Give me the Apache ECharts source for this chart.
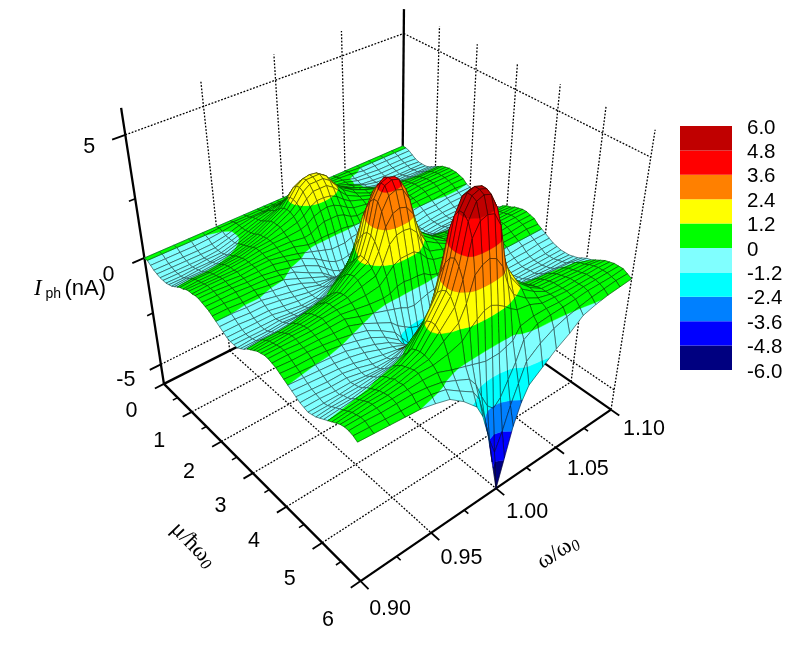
<!DOCTYPE html>
<html><head><meta charset="utf-8">
<style>html,body{margin:0;padding:0;background:#fff}#c{width:789px;height:645px}</style>
<script src="https://cdn.jsdelivr.net/npm/echarts@6/dist/echarts.min.js"></script>
</head><body><div id="c"></div>
<script>
const omegaGrid=[.90,.91,.92,.93,.94,.95,.96,.97,.98,.985,.99,.995,1,1.005,1.01,1.015,1.02,1.03,1.04,1.05,1.06,1.07,1.08,1.09,1.10];
// photocurrent in nA, one row per mu/hw0 step of 0.1 (0 to 6)
const photocurrent=[
[0,0,0,0,0,0,0,0,0,0,0,0,0,0,0,0,0,0,0,0,0,0,0,0,0],
[0,0,0,0,0,.05,.05,.05,.05,.05,.05,.05,.05,.05,.05,.05,.05,.05,.05,.05,0,0,0,0,0],
[-.1,-.1,-.1,-.1,-.06,0,.1,.1,.1,.1,.1,.1,.1,.1,.1,.1,.1,.1,.1,.05,-.05,-.05,-.05,-.05,-.05],
[-.2,-.2,-.2,-.2,-.18,-.08,.1,.2,.2,.3,.3,.3,.3,.3,.3,.3,.2,.2,.1,-.07,-.1,-.15,-.15,-.15,-.15],
[-.25,-.25,-.25,-.25,-.24,-.08,.1,.25,.35,.4,.45,.5,.5,.5,.45,.4,.35,.2,.1,-.07,-.15,-.2,-.2,-.2,-.25],
[-.3,-.3,-.3,-.3,-.24,-.08,.1,.3,.45,.55,.65,.7,.7,.7,.65,.55,.45,.3,.1,-.14,-.2,-.25,-.25,-.25,-.3],
[-.3,-.3,-.3,-.25,-.24,-.08,.15,.35,.55,.7,.9,1,1,1,.9,.7,.55,.3,.15,-.07,-.2,-.25,-.3,-.3,-.3],
[-.3,-.3,-.25,-.25,-.18,0,.2,.45,.7,.95,1.2,1.35,1.4,1.35,1.2,.95,.7,.4,.15,-.07,-.2,-.25,-.25,-.25,-.3],
[-.25,-.25,-.2,-.15,-.12,.08,.25,.55,.85,1.15,1.5,1.65,1.7,1.65,1.5,1.15,.85,.5,.25,0,-.15,-.2,-.2,-.25,-.25],
[-.2,-.15,-.15,-.1,0,.15,.35,.65,.95,1.3,1.65,1.85,1.9,1.85,1.65,1.3,.95,.55,.25,.07,-.05,-.1,-.15,-.15,-.15],
[-.1,-.05,-.05,0,.06,.22,.42,.7,1,1.3,1.7,1.9,1.9,1.9,1.7,1.3,.95,.6,.35,.15,.05,0,-.05,-.05,-.05],
[0,.05,.05,.1,.18,.3,.45,.7,1,1.25,1.6,1.8,1.8,1.8,1.6,1.25,.95,.55,.3,.2,.1,.1,.05,.05,.05],
[.1,.15,.15,.2,.24,.38,.5,.7,.9,1.1,1.4,1.6,1.6,1.6,1.4,1.1,.8,.5,.3,.22,.15,.15,.15,.15,.15],
[.15,.2,.2,.25,.3,.45,.5,.6,.75,.9,1.15,1.3,1.3,1.25,1.1,.85,.65,.45,.25,.2,.2,.2,.2,.2,.2],
[.25,.25,.25,.3,.36,.45,.5,.5,.55,.65,.85,.95,1,.95,.8,.6,.45,.35,.25,.2,.2,.25,.25,.25,.25],
[.3,.3,.3,.3,.36,.45,.42,.4,.3,.35,.5,.6,.6,.6,.5,.3,.2,.25,.2,.2,.2,.25,.25,.25,.25],
[.3,.35,.35,.35,.36,.38,.34,.28,.1,.08,.12,.12,.1,.12,.08,0,0,.1,.15,.18,.18,.25,.25,.25,.25],
[.35,.35,.35,.3,.36,.38,.25,.1,-.1,-.2,-.3,-.4,-.4,-.4,-.3,-.25,-.15,0,.1,.15,.15,.2,.2,.2,.2],
[.35,.35,.3,.3,.3,.3,.17,0,-.3,-.5,-.7,-.85,-.9,-.85,-.7,-.5,-.3,-.1,0,.07,.1,.1,.1,.15,.15],
[.3,.3,.3,.25,.24,.15,0,-.2,-.5,-.75,-1,-1.15,-1.2,-1.15,-1,-.75,-.5,-.3,-.15,-.07,0,0,.05,.05,0],
[.25,.25,.25,.2,.18,.08,-.08,-.4,-.7,-.95,-1.2,-1.3,-1.3,-1.3,-1.15,-.9,-.65,-.45,-.3,-.2,-.1,-.1,-.05,-.05,-.05],
[.2,.2,.15,.15,.06,0,-.25,-.5,-.75,-.95,-1.2,-1.3,-1.3,-1.3,-1.15,-.9,-.65,-.55,-.38,-.3,-.2,-.2,-.15,-.15,-.15],
[.1,.1,.05,.05,-.06,-.15,-.34,-.6,-.75,-.85,-1,-1.1,-1.15,-1.1,-1,-.8,-.65,-.55,-.42,-.35,-.3,-.25,-.25,-.25,-.25],
[0,0,-.05,-.05,-.18,-.3,-.42,-.6,-.6,-.6,-.6,-.6,-.6,-.6,-.55,-.5,-.5,-.55,-.42,-.35,-.3,-.3,-.3,-.3,-.3],
[-.1,-.1,-.15,-.15,-.24,-.38,-.5,-.55,-.45,-.3,-.1,-.05,0,-.05,-.1,-.2,-.3,-.45,-.4,-.35,-.3,-.3,-.3,-.35,-.35],
[-.2,-.2,-.25,-.25,-.36,-.45,-.5,-.45,-.2,.05,.4,.65,.7,.65,.4,.1,-.05,-.35,-.35,-.32,-.3,-.3,-.3,-.3,-.35],
[-.3,-.3,-.3,-.3,-.42,-.52,-.5,-.3,.05,.45,1.05,1.45,1.5,1.45,1.05,.5,.15,-.15,-.22,-.25,-.2,-.25,-.25,-.25,-.3],
[-.35,-.35,-.35,-.35,-.42,-.45,-.42,-.1,.35,.9,1.7,2.1,2.2,2.1,1.7,.9,.45,.1,-.08,-.14,-.15,-.15,-.15,-.2,-.25],
[-.35,-.35,-.35,-.3,-.36,-.38,-.25,.15,.65,1.3,2.3,2.8,2.9,2.8,2.3,1.3,.7,.35,.1,0,-.05,-.05,-.1,-.1,-.15],
[-.35,-.3,-.3,-.25,-.3,-.22,-.05,.4,.85,1.65,2.75,3.3,3.4,3.3,2.75,1.65,.9,.55,.2,.14,.05,.05,0,0,0],
[-.25,-.25,-.2,-.15,-.12,0,.1,.6,1.1,1.95,3.1,3.6,3.8,3.6,3.1,1.95,1.2,.7,.3,.2,.15,.15,.1,.1,.1],
[-.15,-.1,-.1,-.05,.06,.15,.3,.8,1.3,2.1,3.3,3.8,3.9,3.8,3.3,2.1,1.3,.8,.4,.25,.25,.25,.2,.2,.15],
[0,.05,.05,.1,.18,.3,.45,.9,1.3,2.1,3.3,3.8,3.9,3.8,3.3,2.1,1.3,.85,.45,.3,.3,.3,.25,.25,.25],
[.1,.15,.15,.2,.3,.45,.55,.95,1.25,1.95,3,3.5,3.6,3.5,3,1.95,1.25,.8,.45,.35,.35,.3,.3,.3,.3],
[.2,.25,.25,.3,.36,.52,.6,.9,1.1,1.65,2.5,2.9,3,2.9,2.5,1.6,1.1,.75,.45,.35,.35,.35,.35,.35,.35],
[.3,.3,.35,.35,.42,.52,.6,.75,.9,1.25,1.9,2.15,2.2,2.15,1.85,1.15,.8,.6,.4,.3,.3,.3,.35,.35,.35],
[.35,.35,.4,.4,.48,.52,.5,.5,.6,.85,1.15,1.3,1.3,1.3,1.1,.75,.55,.4,.3,.25,.25,.25,.3,.3,.3],
[.4,.4,.4,.4,.42,.45,.35,.25,.2,.25,.4,.45,.4,.4,.35,.15,.05,.1,.16,.2,.2,.2,.2,.25,.25],
[.4,.4,.35,.35,.36,.38,.17,0,-.2,-.3,-.4,-.55,-.6,-.5,-.4,-.35,-.25,-.15,-.08,.07,.1,.1,.1,.15,.1],
[.35,.35,.3,.3,.24,.22,0,-.3,-.6,-.9,-1.1,-1.3,-1.4,-1.3,-1.1,-.85,-.6,-.35,-.24,-.14,-.05,0,0,0,0],
[.3,.25,.25,.2,.12,0,-.17,-.5,-.9,-1.3,-1.7,-1.9,-2,-1.9,-1.7,-1.3,-.9,-.55,-.35,-.25,-.15,-.15,-.1,-.1,-.1],
[.2,.15,.15,.1,0,-.15,-.34,-.65,-1.1,-1.6,-2,-2.2,-2.3,-2.2,-2,-1.5,-1.05,-.65,-.42,-.35,-.3,-.25,-.25,-.2,-.2],
[.1,.05,0,-.05,-.12,-.3,-.5,-.75,-1.15,-1.6,-2,-2.2,-2.3,-2.2,-2,-1.5,-1.05,-.7,-.45,-.4,-.35,-.35,-.35,-.3,-.3],
[0,-.05,-.1,-.15,-.24,-.38,-.6,-.8,-1.05,-1.4,-1.8,-2,-2.1,-2,-1.75,-1.3,-.95,-.7,-.45,-.4,-.4,-.4,-.4,-.4,-.35],
[-.1,-.15,-.2,-.25,-.36,-.52,-.68,-.8,-.9,-1.05,-1.3,-1.45,-1.5,-1.45,-1.25,-.95,-.7,-.6,-.45,-.4,-.4,-.4,-.4,-.4,-.4],
[-.2,-.25,-.3,-.3,-.42,-.6,-.68,-.65,-.55,-.5,-.4,-.4,-.4,-.4,-.35,-.3,-.35,-.45,-.4,-.38,-.35,-.35,-.4,-.4,-.4],
[-.3,-.3,-.35,-.35,-.48,-.6,-.6,-.45,-.1,.25,.6,.9,1,.9,.6,.3,0,-.25,-.3,-.32,-.3,-.35,-.35,-.35,-.4],
[-.35,-.35,-.4,-.4,-.48,-.52,-.42,-.1,.35,.9,1.7,2.1,2.2,2.1,1.7,.9,.4,.05,-.16,-.21,-.2,-.25,-.3,-.3,-.35],
[-.4,-.4,-.4,-.35,-.36,-.38,-.25,.3,.85,1.75,2.95,3.4,3.5,3.4,2.9,1.7,.85,.35,.08,0,-.1,-.15,-.2,-.25,-.3],
[-.35,-.35,-.3,-.3,-.24,-.22,0,.6,1.45,2.5,4,4.5,4.6,4.5,3.95,2.45,1.45,.7,.3,.1,.05,0,-.05,-.1,-.2],
[-.3,-.25,-.25,-.2,-.12,0,.2,1,2,3,4.6,5.2,5.3,5.2,4.55,2.95,2,1,.5,.2,.15,.1,.05,0,-.1],
[-.2,-.15,-.15,-.05,.06,.15,.5,1.3,2.2,3.3,4.9,5.4,5.5,5.4,4.9,3.3,2.3,1.25,.7,.3,.25,.2,.15,.1,-.05],
[-.1,-.05,0,.05,.18,.3,.6,1.4,2.3,3.4,4.9,5.4,5.5,5.4,4.9,3.35,2.35,1.3,.75,.35,.3,.25,.2,.15,.05],
[0,.05,.1,.15,.24,.38,.65,1.4,2.2,3.2,4.7,5.3,5.4,5.3,4.7,3.15,2.2,1.25,.75,.4,.35,.3,.25,.25,.15],
[.1,.15,.2,.25,.36,.45,.65,1.25,1.9,2.8,4.2,4.7,4.8,4.7,4.15,2.7,1.9,1.1,.7,.4,.35,.35,.3,.3,.25],
[.2,.25,.3,.3,.36,.52,.6,1,1.4,2,2.95,3.2,3.3,3.15,2.7,1.85,1.3,.85,.55,.4,.35,.35,.35,.35,.3],
[.3,.3,.35,.35,.42,.52,.5,.6,.8,1.1,1.35,1.55,1.6,1.45,1.25,1,.8,.7,.45,.4,.35,.35,.35,.35,.35],
[.35,.35,.35,.35,.36,.38,.34,.1,-.1,-.2,-.3,-.4,-.4,-.4,-.3,-.2,.25,.35,.35,.3,.3,.35,.35,.35,.35],
[.35,.35,.3,.3,.3,.22,.08,-.2,-.5,-.9,-1.6,-2.2,-2.5,-2.2,-1.6,-1,-.2,.15,.2,.22,.25,.3,.3,.3,.35],
[.3,.25,.2,.15,.12,.08,-.08,-.5,-.9,-1.4,-2.4,-3.6,-4.4,-3.6,-2.6,-1.8,-1,-.55,-.25,-.07,.05,.15,.2,.25,.25],
[.2,.15,.1,.05,0,-.15,-.34,-.8,-1.4,-2,-3,-4.5,-6,-4.7,-3.4,-2.5,-1.9,-1.45,-1,-.65,-.2,-.05,.05,.1,.15]
];
const muGrid=photocurrent.map((r,i)=>i/10);
const levels=[-6,-4.8,-3.6,-2.4,-1.2,0,1.2,2.4,3.6,4.8,6];
const bandColors=['#000080','#0000ff','#0080ff','#00ffff','#80ffff','#00ff00','#ffff00','#ff8000','#ff0000','#c00000'];
const backColor='#7d6c00';
const omegaMajor=[.9,.95,1,1.05,1.1], omegaMinor=[.925,.975,1.025,1.075];
const muMajor=[0,1,2,3,4,5,6], muMinor=[.5,1.5,2.5,3.5,4.5,5.5];
const zMajor=[-5,0,5], zMinor=[-2.5,2.5];
const omegaLabels=['0.90','0.95','1.00','1.05','1.10'];
const muLabels=['0','1','2','3','4','5','6'];
const zLabels=['-5','0','5'];
const FONT='"Liberation Sans"', SERIF='"Liberation Serif"';

// camera: box corners (omega, mu, I) seen at plot-plane positions; solved for a perspective matrix
const cameraAnchors=[
[.9,0,-6,163,386],[.9,0,6,120.7,106],[.9,6,-6,360.7,579],[1.1,6,-6,610,412.5],[1.1,6,6,656,129],
[1.1,0,-6,403,260],[1.1,0,6,403.3,10],[.9,0,5,126,134],[1.1,0,5,403,35],[1.1,6,5,651,156.7],[.9,0,0,145,260]];
function solveCamera(){
  const n=11,A=Array.from({length:n},()=>new Array(n+1).fill(0));
  const add=(r,b)=>{for(let i=0;i<n;i++){for(let j=0;j<n;j++)A[i][j]+=r[i]*r[j];A[i][n]+=r[i]*b;}};
  cameraAnchors.forEach(a=>{const u=(a[0]-.9)/.2,v=a[1]/6,w=(a[2]+6)/12,x=a[3]/500,y=a[4]/500;
    add([u,v,w,1,0,0,0,0,-x*u,-x*v,-x*w],x);add([0,0,0,0,u,v,w,1,-y*u,-y*v,-y*w],y);});
  for(let c=0;c<n;c++){let p=c;for(let r=c+1;r<n;r++)if(Math.abs(A[r][c])>Math.abs(A[p][c]))p=r;
    [A[c],A[p]]=[A[p],A[c]];for(let r=0;r<n;r++)if(r!==c){const f=A[r][c]/A[c][c];for(let k=c;k<=n;k++)A[r][k]-=f*A[c][k];}}
  return A.map((r,i)=>r[n]/r[i]);
}
const M=solveCamera();
function project(om,mu,z){const u=(om-.9)/.2,v=mu/6,w=(z+6)/12,d=M[8]*u+M[9]*v+M[10]*w+1;
  return [500*(M[0]*u+M[1]*v+M[2]*w+M[3])/d,500*(M[4]*u+M[5]*v+M[6]*w+M[7])/d];}

// frame segments built from the tick lists
const segments=[];
const seg=(a,b,w,d)=>segments.push([a,b,w,d]);
const THICK=2.3,DOT=1.3;
seg([.9,0,-6],[.9,6,-6],THICK);seg([.9,6,-6],[1.1,6,-6],THICK);seg([.9,0,-6],[1.1,0,-6],THICK);seg([1.1,0,-6],[1.1,6,-6],THICK);
seg([.9,0,-6],[.9,0,6],THICK);seg([1.1,0,-6],[1.1,0,6],THICK);seg([1.1,6,-6],[1.1,6,6],DOT,1);
omegaMajor.slice(1,4).forEach(o=>{seg([o,0,-6],[o,0,6],DOT,1);seg([o,0,-6],[o,6,-6],DOT,1);});
muMajor.slice(1,6).forEach(m=>{seg([1.1,m,-6],[1.1,m,6],DOT,1);seg([.9,m,-6],[1.1,m,-6],DOT,1);});
[-5,5].forEach(z=>{seg([.9,0,z],[1.1,0,z],DOT,1);seg([1.1,0,z],[1.1,6,z],DOT,1);});
omegaMajor.forEach(o=>seg([o,6,-6],[o,6.2,-6],THICK*.8));omegaMinor.forEach(o=>seg([o,6,-6],[o,6.1,-6],THICK*.7));
muMajor.forEach(m=>seg([.9,m,-6],[.8934,m,-6],THICK*.8));muMinor.forEach(m=>seg([.9,m,-6],[.8965,m,-6],THICK*.7));
zMajor.forEach(z=>seg([.9,0,z],[.892,0,z],THICK*.8));zMinor.forEach(z=>seg([.9,0,z],[.896,0,z],THICK*.7));

const cells=[];
for(let i=0;i<muGrid.length-1;i++)for(let j=omegaGrid.length-2;j>=0;j--)cells.push([i,j]);

function clip(poly,level,keepAbove){const out=[];
  for(let k=0;k<poly.length;k++){const a=poly[k],b=poly[(k+1)%poly.length];
    const ia=keepAbove?a[2]>=level:a[2]<=level,ib=keepAbove?b[2]>=level:b[2]<=level;
    if(ia)out.push(a);
    if(ia!==ib){const t=(level-a[2])/(b[2]-a[2]);out.push([a[0]+t*(b[0]-a[0]),a[1]+t*(b[1]-a[1]),level]);}}
  return out;}

function renderCell(params,api){
  const i=api.value(0),j=api.value(1);
  const corners=[[i,j],[i,j+1],[i+1,j+1],[i+1,j]].map(p=>[omegaGrid[p[1]],muGrid[p[0]],photocurrent[p[0]][p[1]]]);
  const toScreen=c=>api.coord(project(c[0],c[1],c[2]));
  const outline=corners.map(toScreen);
  let area=0;for(let k=0;k<4;k++){const a=outline[k],b=outline[(k+1)%4];area+=a[0]*b[1]-b[0]*a[1];}
  const children=[];
  if(area<0){
    children.push({type:'polygon',shape:{points:outline},style:{fill:backColor,stroke:backColor,lineWidth:.4}});
  }else bandColors.forEach((col,k)=>{
    let poly=corners;
    if(k>0)poly=clip(poly,levels[k],true);
    if(poly.length&&k<bandColors.length-1)poly=clip(poly,levels[k+1],false);
    if(poly.length>2)children.push({type:'polygon',shape:{points:poly.map(toScreen)},style:{fill:col,stroke:col,lineWidth:.4}});
  });
  children.push({type:'polygon',shape:{points:outline},style:{fill:null,stroke:'#000',lineWidth:.55,opacity:.85}});
  return {type:'group',children};
}
function renderSegment(params,api){
  const s=segments[api.value(0)],a=api.coord(project(...s[0])),b=api.coord(project(...s[1]));
  return {type:'line',shape:{x1:a[0],y1:a[1],x2:b[0],y2:b[1]},style:{stroke:'#000',lineWidth:s[2],lineDash:s[3]?[1.8,1.6]:null}};
}
// tick and axis labels placed relative to the projected axis
const texts=[];
omegaMajor.forEach((o,i)=>{const p=project(o,6,-6),t=(o-.9)/.2;texts.push({t:omegaLabels[i],x:p[0]+29.5+3.5*t,y:p[1]+27.7-8.7*t});});
muMajor.forEach((m,i)=>{const p=project(.9,m,-6);texts.push({t:muLabels[i],x:p[0]-32.5,y:p[1]+27+11.7*m/6});});
zMajor.forEach((z,i)=>{const p=project(.9,0,z);texts.push({t:zLabels[i],x:p[0]-36+(z<0?1:0),y:p[1]+12.7+(z<0?3:(z===0?4:0))});});
function renderText(params,api){
  const d=texts[api.value(0)],c=api.coord([d.x,d.y]);
  return {type:'text',x:c[0],y:c[1],style:{text:d.t,fontFamily:FONT,fontSize:21.5,fill:'#000',align:'center',verticalAlign:'middle'}};
}
const titles=[
 {x:34,y:289,rot:0,align:'left',text:'{i|I}{s| ph} {n|(nA)}',rich:{i:{fontFamily:SERIF,fontStyle:'italic',fontSize:23,fill:'#000'},s:{fontFamily:FONT,fontSize:14,fill:'#000',padding:[10,0,0,0]},n:{fontFamily:FONT,fontSize:22,fill:'#000'}}},
 {x:193,y:545,rot:-46*Math.PI/180,align:'center',text:'{a|μ/ħω}{b|0}',rich:{a:{fontFamily:SERIF,fontSize:23,fill:'#000'},b:{fontFamily:SERIF,fontStyle:'italic',fontSize:16,fill:'#000',padding:[10,0,0,0]}}},
 {x:558,y:552,rot:33*Math.PI/180,align:'center',text:'{a|ω/ω}{b|0}',rich:{a:{fontFamily:SERIF,fontSize:23,fill:'#000'},b:{fontFamily:SERIF,fontStyle:'italic',fontSize:16,fill:'#000',padding:[10,0,0,0]}}}
];
function renderTitle(params,api){
  const d=titles[api.value(0)],c=api.coord([d.x,d.y]);
  return {type:'text',x:c[0],y:c[1],rotation:d.rot,style:{text:d.text,rich:d.rich,align:d.align,verticalAlign:'middle'}};
}
function renderBand(params,api){
  const a=api.coord([0,api.value(0)]),b=api.coord([1,api.value(1)]);
  return {type:'rect',shape:{x:a[0],y:b[1],width:b[0]-a[0],height:a[1]-b[1]},style:{fill:bandColors[params.dataIndex]}};
}
const chart=echarts.init(document.getElementById('c'),null,{renderer:'canvas'});
chart.setOption({
  animation:false,backgroundColor:'#fff',
  textStyle:{fontFamily:FONT},
  grid:[{left:0,right:0,top:0,bottom:0},{left:680,top:126,width:52,height:244}],
  xAxis:[{type:'value',min:0,max:789,show:false,gridIndex:0},{type:'value',min:0,max:1,show:false,gridIndex:1}],
  yAxis:[{type:'value',min:0,max:645,inverse:true,show:false,gridIndex:0},
   {type:'value',min:-6,max:6,interval:1.2,gridIndex:1,position:'right',axisLine:{show:false},axisTick:{show:false},splitLine:{show:false},
    axisLabel:{fontSize:20.5,color:'#000',margin:15,fontFamily:FONT,lineHeight:4,verticalAlign:'top',formatter:v=>Math.abs(v)<1e-6?'0':v.toFixed(1)}}],
  series:[
   {type:'custom',name:'frame',z:1,silent:true,renderItem:renderSegment,encode:{x:0,y:0},data:segments.map((s,i)=>[i])},
   {type:'custom',name:'photocurrent',z:2,silent:true,renderItem:renderCell,encode:{x:0,y:1},data:cells},
   {type:'custom',name:'ticks',z:3,silent:true,renderItem:renderText,encode:{x:0,y:0},data:texts.map((s,i)=>[i])},
   {type:'custom',name:'titles',z:3,silent:true,renderItem:renderTitle,encode:{x:0,y:0},data:titles.map((s,i)=>[i])},
   {type:'custom',name:'colorbar',z:2,silent:true,xAxisIndex:1,yAxisIndex:1,renderItem:renderBand,encode:{y:[0,1]},data:bandColors.map((c,i)=>[levels[i],levels[i+1]])}
  ]
});
</script></body></html>
